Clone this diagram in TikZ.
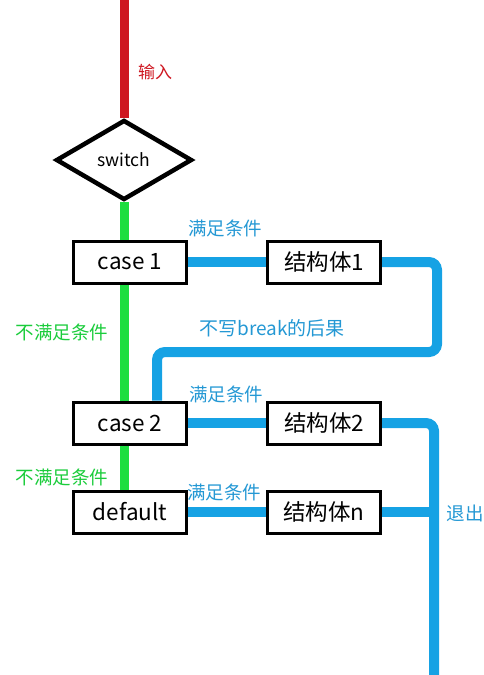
\documentclass[tikz,border=0pt]{standalone}
\usepackage{fontspec}
\setmainfont{Noto Sans CJK SC}
\usepackage{tikz}
\usetikzlibrary{calc,positioning,shapes.geometric,backgrounds}
\usepackage{xcolor}
\definecolor{inred}{RGB}{206,22,32}
\definecolor{nogreen}{RGB}{28,222,64}
\definecolor{okblue}{RGB}{22,162,228}
\definecolor{txtblue}{RGB}{36,152,212}

\begin{document}
\begin{tikzpicture}[x=1pt,y=-1pt,
    box/.style={draw, line width=3pt, fill=white, minimum width=113pt, minimum height=42pt, inner sep=0pt, font=\fontsize{22.5}{24}\selectfont},
    dia/.style={draw, diamond, line width=4.5pt, fill=white, aspect=1.7, minimum width=136pt, minimum height=80pt, inner sep=0pt, font=\fontsize{17.5}{19}\selectfont},
    redline/.style={inred, line width=9pt},
    greenline/.style={nogreen, line width=9pt},
    blueline/.style={okblue, line width=10pt, rounded corners=8pt},
    bluelabel/.style={txtblue, font=\fontsize{18.5}{20}\selectfont},
    greenlabel/.style={nogreen!92!black, font=\fontsize{18.5}{20}\selectfont}]

    \useasboundingbox (0,0) rectangle (483,675);

    % decision and cases
    \node[dia] (sw) at (124,160) {switch};
    \node[box] (c1) at (130,262) {case 1};
    \node[box] (c2) at (130,423) {case 2};
    \node[box] (dft) at (130,512) {default};

    % bodies
    \node[box] (s1) at (324,262) {结构体1};
    \node[box] (s2) at (324,423) {结构体2};
    \node[box] (sn) at (324,512) {结构体n};

    % free ends of the lines
    \coordinate (top) at (124,0);
    \coordinate (bk1) at (437,352);
    \coordinate (bk2) at (157,352);
    \coordinate (out) at (434,675);

    \begin{pgfonlayer}{background}
        \draw[redline] (top) -- (sw.north);
        \draw[greenline] (sw.south) -- (sw.south |- dft.north);
        \foreach \a/\b in {c1/s1, c2/s2, dft/sn} {
            \draw[blueline] (\a.east) -- (\b.west);
        }
        % fall through without break
        \draw[blueline] (s1.east) -| (bk1) -- (bk2) -- (bk2 |- c2.north);
        % exit
        \draw[blueline] (s2.east) -| (out);
        \draw[blueline] (sn.east) -- (sn.east -| out);
    \end{pgfonlayer}

    % labels
    \node[inred, font=\fontsize{17}{19}\selectfont] (lin) at (155,72) {输入};
    \node[bluelabel] (ok1) at (225,228) {满足条件};
    \node[bluelabel] (ok2) at (226,394) {满足条件};
    \node[bluelabel] (ok3) at (224,492) {满足条件};
    \node[bluelabel, font=\fontsize{19}{21}\selectfont] (nobk) at (272,328) {不写break的后果};
    \node[greenlabel] (no1) at (62,332) {不满足条件};
    \node[greenlabel] (no2) at (62,477) {不满足条件};
    \node[bluelabel] (lout) at (465,513) {退出};

\end{tikzpicture}
\end{document}
